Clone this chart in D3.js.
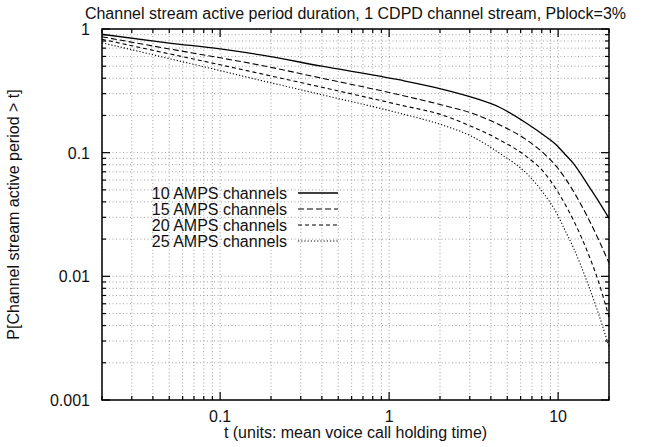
<!DOCTYPE html>
<html>
<head>
<meta charset="utf-8">
<script src="https://cdn.jsdelivr.net/npm/d3@7"></script>
<style>
  html, body { margin: 0; padding: 0; background: #fff; }
  svg { display: block; }
  text { font-family: "Liberation Sans", Arial, Helvetica, sans-serif; fill: #111; }
</style>
</head>
<body>
<svg id="chart" width="646" height="447"></svg>
<script>
// Time points (units: mean voice call holding time)
const tValues = [0.02, 0.05, 0.1, 0.17, 0.4, 1.16, 2.05, 3.1, 4.5, 6.5, 8.2, 9.8, 11.2, 12.3, 15, 17, 20];

// P[active period > t] for each number of AMPS channels
const series10 = [0.906, 0.77, 0.69, 0.62, 0.50, 0.387, 0.327, 0.28, 0.233, 0.173, 0.139, 0.115, 0.0944, 0.082, 0.055, 0.0423, 0.0295];
const series15 = [0.866, 0.69, 0.585, 0.512, 0.40, 0.293, 0.243, 0.208, 0.168, 0.127, 0.099, 0.077, 0.060, 0.0489, 0.0298, 0.021, 0.0128];
const series20 = [0.825, 0.63, 0.514, 0.438, 0.338, 0.243, 0.202, 0.162, 0.127, 0.093, 0.070, 0.050, 0.0366, 0.0286, 0.0155, 0.0098, 0.0047];
const series25 = [0.775, 0.576, 0.461, 0.387, 0.294, 0.208, 0.168, 0.135, 0.099, 0.068, 0.047, 0.0324, 0.0223, 0.0171, 0.0087, 0.0054, 0.0027];

const seriesNames = ["10 AMPS channels", "15 AMPS channels", "20 AMPS channels", "25 AMPS channels"];
const seriesDash = [null, "6,3", "4,3", "1.2,2"];

const xTickLabels = ["0.1", "1", "10"];
const yTickLabels = ["1", "0.1", "0.01", "0.001"];

const titleText = "Channel stream active period duration, 1 CDPD channel stream, Pblock=3%";
const xTitle = "t (units: mean voice call holding time)";
const yTitle = "P[Channel stream active period > t]";

const margin = { left: 102, right: 37, top: 29, bottom: 47 };
const W = 646, H = 447;
const plotW = W - margin.left - margin.right;
const plotH = H - margin.top - margin.bottom;
const fontSize = 16;

const svg = d3.select("#chart");
const g = svg.append("g").attr("transform", `translate(${margin.left},${margin.top})`);

const x = d3.scaleLog().domain([0.02, 20]).range([0, plotW]);
const y = d3.scaleLog().domain([0.001, 1]).range([plotH, 0]);

// minor tick positions on each axis (every integer multiple within a decade)
const xMinor = [];
for (let e = -2; e <= 1; e++) for (let m = 1; m <= 9; m++) {
  const v = m * Math.pow(10, e);
  if (v >= 0.02 - 1e-9 && v <= 20 + 1e-9) xMinor.push(+v.toPrecision(3));
}
const yMinor = [];
for (let e = -3; e <= 0; e++) for (let m = 1; m <= 9; m++) {
  const v = m * Math.pow(10, e);
  if (v >= 0.001 - 1e-12 && v <= 1 + 1e-9) yMinor.push(+v.toPrecision(3));
}
const isMajor = v => Math.abs(Math.log10(v) - Math.round(Math.log10(v))) < 1e-6;

// dotted grid
const grid = g.append("g").attr("stroke", "#8a8a8a").attr("stroke-width", 0.8)
  .attr("stroke-dasharray", "1,2.5").attr("fill", "none");
xMinor.forEach(v => {
  grid.append("line").attr("x1", x(v)).attr("x2", x(v)).attr("y1", 0).attr("y2", plotH);
});
yMinor.forEach(v => {
  grid.append("line").attr("x1", 0).attr("x2", plotW).attr("y1", y(v)).attr("y2", y(v));
});

// inward ticks on all four sides
const tickLen = v => isMajor(v) ? 8 : 4;
const axes = g.append("g").attr("stroke", "#000").attr("stroke-width", 1.2);
xMinor.forEach(v => {
  axes.append("line").attr("x1", x(v)).attr("x2", x(v)).attr("y1", plotH).attr("y2", plotH - tickLen(v));
  axes.append("line").attr("x1", x(v)).attr("x2", x(v)).attr("y1", 0).attr("y2", tickLen(v));
});
yMinor.forEach(v => {
  axes.append("line").attr("x1", 0).attr("x2", tickLen(v)).attr("y1", y(v)).attr("y2", y(v));
  axes.append("line").attr("x1", plotW).attr("x2", plotW - tickLen(v)).attr("y1", y(v)).attr("y2", y(v));
});
g.append("rect").attr("x", 0).attr("y", 0).attr("width", plotW).attr("height", plotH)
  .attr("fill", "none").attr("stroke", "#000").attr("stroke-width", 1.5);

// tick labels
xTickLabels.forEach(s => {
  g.append("text").attr("x", x(+s)).attr("y", plotH + 22).attr("text-anchor", "middle")
    .attr("font-size", fontSize).text(s);
});
yTickLabels.forEach(s => {
  g.append("text").attr("x", -12).attr("y", y(+s) + 6).attr("text-anchor", "end")
    .attr("font-size", fontSize).text(s);
});

// titles
svg.append("text").attr("x", margin.left + plotW / 2).attr("y", 19).attr("text-anchor", "middle")
  .attr("font-size", fontSize).text(titleText);
svg.append("text").attr("x", margin.left + plotW / 2).attr("y", H - 9).attr("text-anchor", "middle")
  .attr("font-size", fontSize).text(xTitle);
svg.append("text").attr("transform", `translate(19,${margin.top + plotH / 2}) rotate(-90)`)
  .attr("text-anchor", "middle").attr("font-size", fontSize).text(yTitle);

// curves
const allSeries = [series10, series15, series20, series25];
const line = d3.line().x(d => x(d[0])).y(d => y(d[1])).curve(d3.curveMonotoneX);
allSeries.forEach((s, i) => {
  g.append("path").datum(tValues.map((t, j) => [t, s[j]]))
    .attr("d", line).attr("fill", "none").attr("stroke", "#000")
    .attr("stroke-width", i === 0 ? 1.3 : 1.1)
    .attr("stroke-dasharray", seriesDash[i]);
});

// legend
const legend = g.append("g");
seriesNames.forEach((name, i) => {
  const ly = 164 + i * 16;
  legend.append("text").attr("x", 185).attr("y", ly + 6).attr("text-anchor", "end")
    .attr("font-size", fontSize).text(name);
  legend.append("line").attr("x1", 196).attr("x2", 236).attr("y1", ly).attr("y2", ly)
    .attr("stroke", "#000").attr("stroke-width", i === 0 ? 1.3 : 1.1)
    .attr("stroke-dasharray", seriesDash[i]);
});
</script>
</body>
</html>
